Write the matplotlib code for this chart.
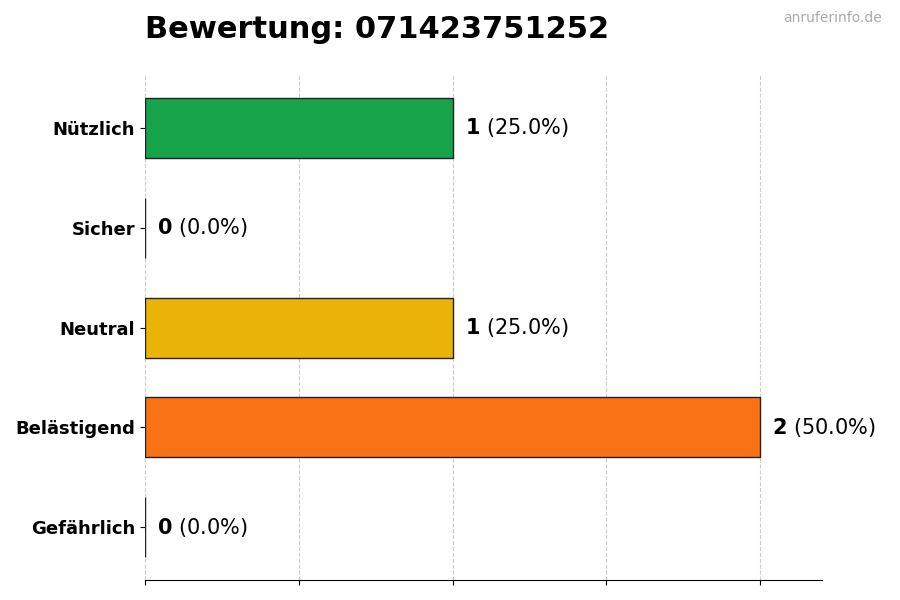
import matplotlib.pyplot as plt

categories = ['Gefährlich', 'Belästigend', 'Neutral', 'Sicher', 'Nützlich']
counts = [0, 2, 1, 0, 1]
colors = ['#dc2626', '#f97316', '#eab308', '#22c55e', '#16a34a']
total = sum(counts)

fig = plt.figure(figsize=(9, 6), dpi=100)
ax = fig.add_axes([0.161, 0.033, 0.752, 0.842])
ypos = range(len(categories))
ax.barh(ypos, counts, height=0.6, color=colors, edgecolor='#222222', linewidth=1)
for y, c in zip(ypos, counts):
    pct = c / total * 100
    ax.text(c + 0.04, y, f'$\\bf{{{c}}}$ ({pct:.1f}%)', va='center', fontsize=15)

ax.set_yticks(list(ypos))
ax.set_yticklabels(categories, fontsize=13, fontweight='bold')
ax.set_xticks([0, 0.5, 1, 1.5, 2])
ax.set_xticklabels([])
ax.set_xlim(0, 2.2)
ax.set_ylim(-0.53, 4.53)
ax.grid(axis='x', linestyle='--', color='#cccccc', linewidth=0.8)
ax.set_axisbelow(True)
for s in ['top', 'right', 'left']:
    ax.spines[s].set_visible(False)

fig.text(0.161, 0.95, 'Bewertung: 071423751252', fontsize=22, fontweight='bold', va='center')
fig.text(0.98, 0.97, 'anruferinfo.de', fontsize=10, color='#aaaaaa', ha='right', va='center')
fig.savefig('out.png')
